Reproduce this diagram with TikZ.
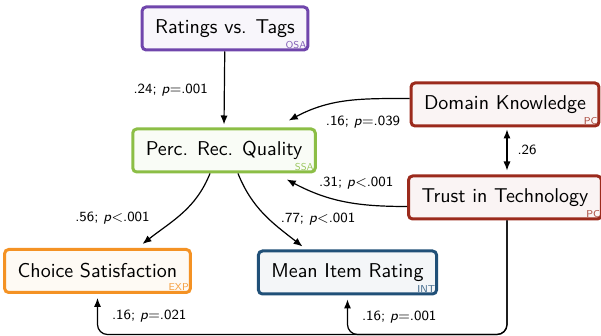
\documentclass[tikz,border=0pt]{standalone}
\usetikzlibrary{arrows.meta}

\definecolor{osacol}{RGB}{112,70,172}
\definecolor{ssacol}{RGB}{140,190,70}
\definecolor{pccol}{RGB}{155,42,28}
\definecolor{expcol}{RGB}{244,146,36}
\definecolor{intcol}{RGB}{32,80,120}

\tikzset{
  construct/.style 2 args={draw=#1, fill=#1!5, line width=1.5pt, rounded corners=2pt,
    minimum height=21.5pt, inner xsep=6.5pt, font=\sffamily,
    label={[anchor=south east, inner sep=0.6pt, xshift=-0.7pt, yshift=0.7pt,
      font=\sffamily\tiny, text=#1!85]south east:#2}},
  path/.style={-{Latex[length=4.5pt,width=3.6pt]}, line width=0.6pt},
  coef/.style={font=\sffamily\scriptsize, inner sep=1pt}
}

\begin{document}
\begin{tikzpicture}[x=0.5pt, y=-0.5pt]
            \useasboundingbox (0,0) rectangle (601,336);

            % Draw the constructs
            \node[construct={osacol}{OSA}] (rat) at (225,28.5) {Ratings vs. Tags};
            \node[construct={ssacol}{SSA}] (perc) at (224,150.5) {Perc. Rec. Quality};
            \node[construct={pccol}{PC}] (dom) at (505,104.5) {Domain Knowledge};
            \node[construct={pccol}{PC}] (trust) at (505,197.5) {Trust in Technology};
            \node[construct={expcol}{EXP}] (choice) at (97.5,271) {Choice Satisfaction};
            \node[construct={intcol}{INT}] (mean) at (347.5,272.5) {Mean Item Rating};

            % Draw paths into perceived quality
            \draw[path] (rat) -- node[coef, left, xshift=-7pt, yshift=-1pt] {.24; \textit{p}=.001} ([yshift=1.5pt]perc.north);
            \draw[path] ([yshift=3pt]dom.west) to[out=180, in=28]
              node[coef, pos=0.5, below, xshift=8pt, yshift=-6pt] {.16; \textit{p}=.039}
              ([xshift=-14pt, yshift=3.5pt]perc.north east);
            \draw[path] ([yshift=-4.5pt]trust.west) to[out=180, in=-28]
              node[coef, pos=0.4, above, yshift=6pt] {.31; \textit{p}<.001}
              ([xshift=-15pt, yshift=-3pt]perc.south east);

            % Draw paths out of perceived quality
            \draw[path] ([xshift=-7pt]perc.south) to[out=-112, in=38]
              node[coef, pos=0.5, left, xshift=-15pt, yshift=-2.5pt] {.56; \textit{p}<.001}
              ([xshift=22.5pt, yshift=2pt]choice.north);
            \draw[path] ([xshift=7pt]perc.south) to[out=-68, in=142]
              node[coef, pos=0.5, right, xshift=7pt, yshift=-2.5pt] {.77; \textit{p}<.001}
              ([xshift=-22.5pt, yshift=1.5pt]mean.north);

            % Draw correlation between the two personal characteristics
            \draw[{Latex[length=4.5pt,width=3.6pt]}-{Latex[length=4.5pt,width=3.6pt]}, line width=0.6pt]
              ([xshift=1pt, yshift=-1pt]dom.south) -- node[coef, right, xshift=4pt] {.26}
              ([xshift=1pt, yshift=2pt]trust.north);

            % Draw paths from trust along the bottom
            \draw[path, rounded corners=5pt] ([xshift=1pt]trust.south) -- ++(0,114)
              -| node[coef, pos=0.75, right, xshift=6pt] {.16; \textit{p}=.021} ([yshift=-2pt]choice.south);
            \draw[path, rounded corners=5pt] ([xshift=1pt]trust.south) -- ++(0,114)
              -| node[coef, pos=0.75, right, xshift=6pt] {.16; \textit{p}=.001} ([yshift=-2pt]mean.south);
        \end{tikzpicture}
\end{document}
